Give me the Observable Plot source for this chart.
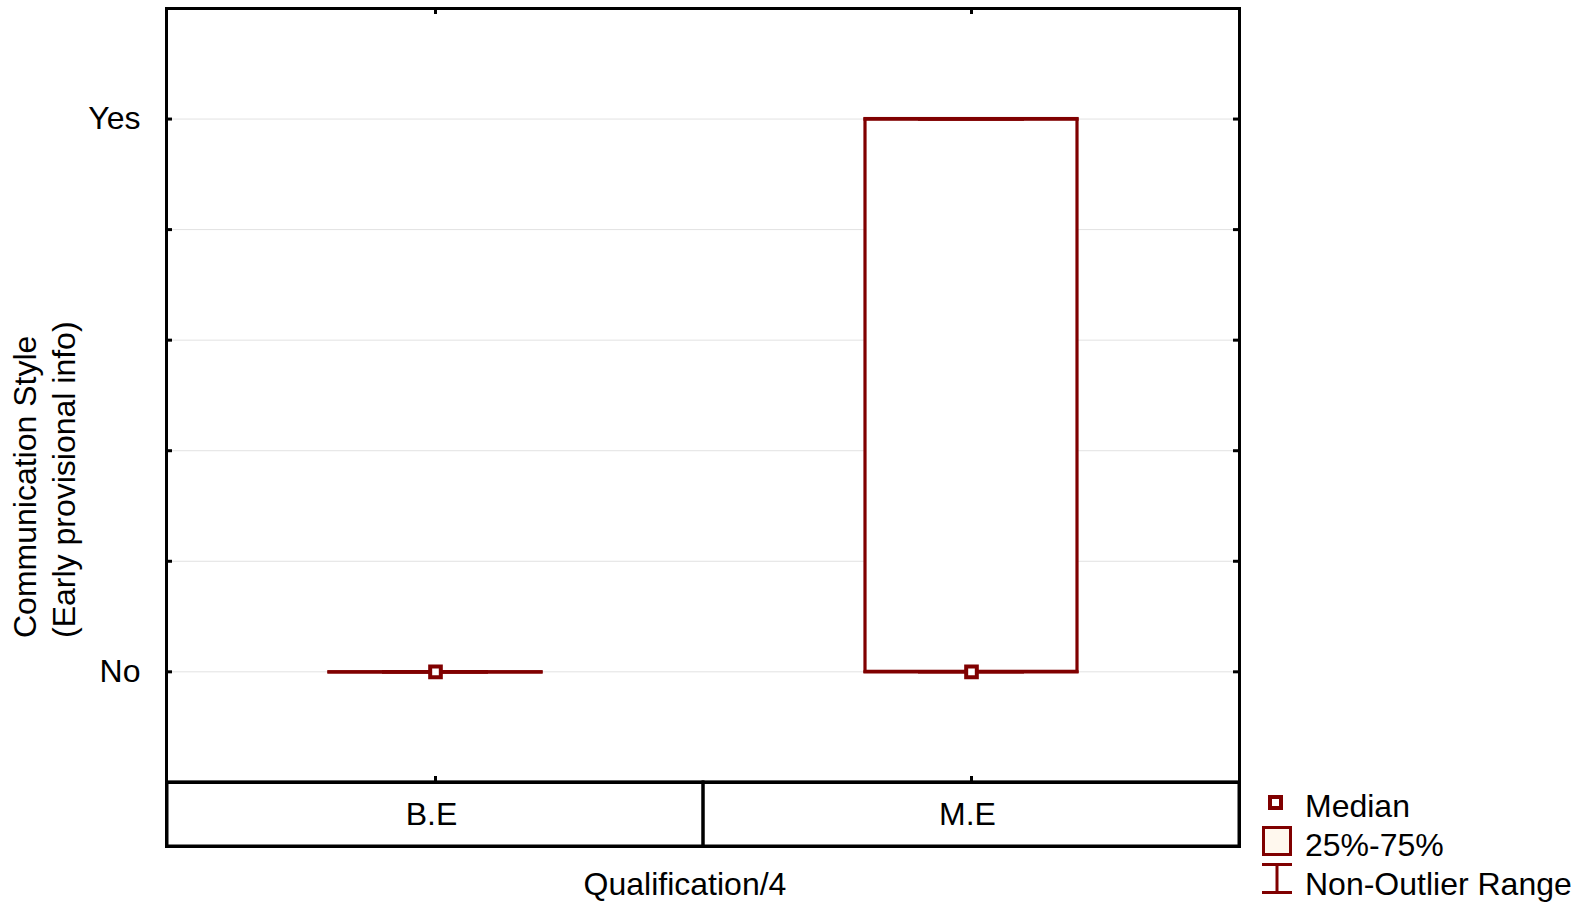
<!DOCTYPE html>
<html><head><meta charset="utf-8">
<script src="https://cdn.jsdelivr.net/npm/d3@7"></script>
<script src="https://cdn.jsdelivr.net/npm/@observablehq/plot@0.6"></script>
<style>body{margin:0;background:#fff;} #chart{width:1578px;height:903px;}</style>
</head><body><div id="chart"></div>
<script>
const categories = ["B.E", "M.E"];
const minValues = [0, 0];
const q1Values = [0, 0];
const medianValues = [0, 0];
const q3Values = [0, 1];
const maxValues = [0, 1];
const yTicks = [0, 0.2, 0.4, 0.6, 0.8, 1];
const yTickLabels = {0: "No", 1: "Yes"};
const legendLabels = ["Median", "25%-75%", "Non-Outlier Range"];
const xTitle = "Qualification/4";
const yTitle = ["Communication Style", "(Early provisional info)"];

const rows = categories.map((c, i) => ({cat: c, min: minValues[i], q1: q1Values[i], median: medianValues[i], q3: q3Values[i], max: maxValues[i]}));

const red = "#800000";
const font = "'Liberation Sans', Arial, sans-serif";
const FS = 32;
const W = 1578, H = 903, mL = 166, mR = 339, mT = 8, mB = 57;
const plotW = W - mL - mR, plotH = H - mT - mB;
const yTop = 1.2, yPlotBottom = -0.2, yBandBottom = -0.316;
const boxInset = 162, capInset = 215;

const plot = Plot.plot({
  width: W, height: H, marginLeft: mL, marginRight: mR, marginTop: mT, marginBottom: mB,
  style: {fontFamily: font, fontSize: FS + "px", color: "#000", background: "#fff", overflow: "visible"},
  x: {type: "band", domain: categories, padding: 0, axis: null},
  y: {domain: [yBandBottom, yTop], axis: null},
  marks: [
    Plot.ruleY(yTicks, {y: d => d, stroke: "#e2e2e2", strokeWidth: 1}),
    // inward y ticks left/right
    Plot.tickY(yTicks, {y: d => d, insetRight: plotW - 6, stroke: "#000", strokeWidth: 3}),
    Plot.tickY(yTicks, {y: d => d, insetLeft: plotW - 6, stroke: "#000", strokeWidth: 3}),
    Plot.axisY({anchor: "left", ticks: [0, 1], tickSize: 0, tickPadding: 26, tickFormat: d => yTickLabels[d], label: null, fontSize: FS}),
    // boxes
    Plot.barY(rows, {x: "cat", y1: "q1", y2: "q3", fill: "white", stroke: red, strokeWidth: 3.2, insetLeft: boxInset, insetRight: boxInset}),
    Plot.tickY(rows, {x: "cat", y: "q1", stroke: red, strokeWidth: 3.2, strokeLinecap: "square", insetLeft: boxInset, insetRight: boxInset}),
    Plot.tickY(rows, {x: "cat", y: "q3", stroke: red, strokeWidth: 3.2, strokeLinecap: "square", insetLeft: boxInset, insetRight: boxInset}),
    // whiskers
    Plot.ruleX(rows, {x: "cat", y1: "min", y2: "q1", stroke: red, strokeWidth: 3}),
    Plot.ruleX(rows, {x: "cat", y1: "q3", y2: "max", stroke: red, strokeWidth: 3}),
    Plot.tickY(rows, {x: "cat", y: "min", stroke: red, strokeWidth: 3.5, insetLeft: capInset, insetRight: capInset}),
    Plot.tickY(rows, {x: "cat", y: "max", stroke: red, strokeWidth: 3.5, insetLeft: capInset, insetRight: capInset}),
    // median
    Plot.dot(rows, {x: "cat", y: "median", symbol: "square", r: 6, stroke: red, strokeWidth: 4, fill: "white"}),
    // category band
    Plot.barY(categories, {x: d => d, y1: yPlotBottom, y2: yBandBottom, fill: "none", stroke: "#000", strokeWidth: 3}),
    Plot.text(categories, {x: d => d, y: (yPlotBottom + yBandBottom) / 2, text: d => d, dx: -4, fontSize: FS, fill: "#000"}),
    // top and bottom inward x ticks
    Plot.tickX(categories, {x: d => d, insetBottom: plotH - 6, stroke: "#000", strokeWidth: 3}),
    Plot.ruleY([yPlotBottom], {stroke: "#000", strokeWidth: 3}),
    Plot.tickX(categories, {x: d => d, insetTop: 782 - mT - 6, insetBottom: H - mB - 782, stroke: "#000", strokeWidth: 3}),
    Plot.frame({stroke: "#000", strokeWidth: 3})
  ]
});
document.getElementById("chart").appendChild(plot);

const svg = d3.select(plot);
const g = svg.append("g").attr("font-family", font).attr("font-size", FS).attr("fill", "#000");
// x title
g.append("text").attr("x", 685).attr("y", 884).attr("text-anchor", "middle").attr("dominant-baseline", "central").text(xTitle);
// y title
g.append("text").attr("transform", "translate(36,638) rotate(-90)").attr("text-anchor", "start").text(yTitle[0]);
g.append("text").attr("transform", "translate(75,638) rotate(-90)").attr("text-anchor", "start").text(yTitle[1]);
// legend
const lg = svg.append("g");
lg.append("rect").attr("x", 1270).attr("y", 797).attr("width", 11).attr("height", 11).attr("fill", "white").attr("stroke", red).attr("stroke-width", 4);
lg.append("rect").attr("x", 1263.5).attr("y", 827.5).attr("width", 27).attr("height", 27).attr("fill", "#fff8ee").attr("stroke", red).attr("stroke-width", 3);
lg.append("line").attr("x1", 1262).attr("x2", 1292).attr("y1", 864.5).attr("y2", 864.5).attr("stroke", red).attr("stroke-width", 3);
lg.append("line").attr("x1", 1262).attr("x2", 1292).attr("y1", 892.5).attr("y2", 892.5).attr("stroke", red).attr("stroke-width", 3);
lg.append("line").attr("x1", 1277).attr("x2", 1277).attr("y1", 864).attr("y2", 893).attr("stroke", red).attr("stroke-width", 3);
const ys = [806, 845, 884];
legendLabels.forEach((t, i) => {
  g.append("text").attr("x", 1305).attr("y", ys[i]).attr("text-anchor", "start").attr("dominant-baseline", "central").text(t);
});
</script>
</body></html>
